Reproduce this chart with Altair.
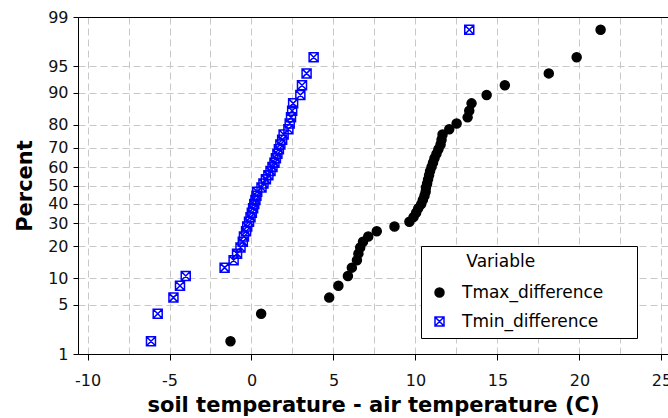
import altair as alt
import pandas as pd
from statistics import NormalDist

# Soil minus air temperature differences (C), one list per variable
tmax_difference = [
    -1.28, 0.59, 4.74, 5.30, 5.88, 6.12, 6.43, 6.52, 6.63, 6.80,
    7.12, 7.64, 8.72, 9.63, 9.88, 10.04, 10.17, 10.35, 10.45, 10.55,
    10.62, 10.64, 10.71, 10.77, 10.83, 10.89, 10.98, 11.07, 11.16, 11.28,
    11.40, 11.53, 11.59, 11.65, 12.06, 12.51, 13.18, 13.28, 13.42, 14.34,
    15.45, 18.13, 19.83, 21.29,
]
tmin_difference = [
    -6.13, -5.72, -4.76, -4.36, -4.01, -1.64, -1.09, -0.88, -0.67, -0.53,
    -0.46, -0.33, -0.26, -0.15, -0.06, 0.02, 0.10, 0.17, 0.24, 0.30,
    0.35, 0.61, 0.73, 0.88, 1.03, 1.16, 1.28, 1.40, 1.49, 1.58,
    1.67, 1.76, 1.87, 1.96, 2.25, 2.33, 2.41, 2.48, 2.54, 2.98,
    3.08, 3.36, 3.79, 13.28,
]
variables = ["Tmax_difference", "Tmin_difference"]

percent_ticks = [1, 5, 10, 20, 30, 40, 50, 60, 70, 80, 90, 95, 99]
x_grid = [-10, -7.5, -5, -2.5, 0, 2.5, 5, 7.5, 10, 12.5, 15, 17.5, 20, 22.5, 25]

FONT = "DejaVu Sans"
BLANK = "\u2800"  # blank glyph used as fixed-width indent inside the legend

df = pd.DataFrame({
    "Variable": [variables[0]] * len(tmax_difference) + [variables[1]] * len(tmin_difference),
    "value": tmax_difference + tmin_difference,
})

# Normal probability scale: percent -> standard normal quantile
nd = NormalDist()
z_ticks = [nd.inv_cdf(p / 100) for p in percent_ticks]
z_lo, z_hi = z_ticks[0], z_ticks[-1]

# Square with a diagonal cross inside
XBOX = "M-1,-1L1,-1L1,1L-1,1Z M-1,-1L1,1 M-1,1L1,-1"

x_scale = alt.Scale(domain=[-10.58, 25.4], nice=False, zero=False)
y_scale = alt.Scale(domain=[z_lo, z_hi], nice=False, zero=False)

base = (
    alt.Chart(df)
    .transform_window(rank="row_number()", sort=[alt.SortField("value", order="ascending")],
                      groupby=["Variable"])
    .transform_joinaggregate(n="count()", groupby=["Variable"])
    .transform_calculate(z="quantileNormal((datum.rank - 0.3) / (datum.n + 0.4))")
)

legend = alt.Legend(
    orient="none", legendX=343, legendY=229,
    title=BLANK * 3 + "Variable",
    titleFont=FONT, titleFontSize=17, titleFontWeight="normal", titleColor="black",
    titlePadding=13,
    labelFont=FONT, labelFontSize=17, labelColor="black", labelLimit=400,
    labelExpr="datum.label + '" + BLANK * 2 + "'",
    labelOffset=14, symbolOffset=2,
    symbolSize=81, symbolStrokeWidth=1.5,
    rowPadding=11, padding=8,
    strokeColor="black", fillColor="white",
)

x_axis = alt.Axis(
    values=x_grid,
    labelExpr="datum.value % 5 == 0 ? replace(datum.label, '\u2212', '-') : ''",
    tickOpacity={"condition": {"test": "datum.value % 5 != 0", "value": 0}, "value": 1},
    title="soil temperature - air temperature (C)",
    titleFont=FONT, titleFontSize=21, titleFontWeight="bold", titleColor="black",
    titleBaseline="alphabetic", titleY=57.5,
    labelFont=FONT, labelFontSize=16, labelColor="#111111", labelPadding=12,
    tickSize=6, tickColor="black", domainColor="black", domainWidth=1,
    grid=True, gridColor="#c8c8c8", gridDash=[7, 4], gridWidth=1,
)

y_axis = alt.Axis(
    values=z_ticks,
    labelExpr="format(cumulativeNormal(datum.value) * 100, '.0f')",
    title="Percent",
    titleFont=FONT, titleFontSize=21, titleFontWeight="bold", titleColor="black",
    titleBaseline="alphabetic", titleX=-46.5, titleAngle=270,
    labelFont=FONT, labelFontSize=16, labelColor="#111111", labelPadding=5,
    tickSize=5, tickColor="black", domainColor="black", domainWidth=1,
    grid=True, gridColor="#c8c8c8", gridDash=[7, 4], gridWidth=1,
)

points = base.mark_point(size=81, strokeWidth=1.5, opacity=1).encode(
    x=alt.X("value:Q", scale=x_scale, axis=x_axis),
    y=alt.Y("z:Q", scale=y_scale, axis=y_axis),
    shape=alt.Shape("Variable:N", scale=alt.Scale(domain=variables, range=["circle", XBOX]),
                    legend=legend),
    fill=alt.Fill("Variable:N", scale=alt.Scale(domain=variables, range=["black", "transparent"]),
                  legend=legend),
    stroke=alt.Stroke("Variable:N", scale=alt.Scale(domain=variables, range=["black", "#0000ff"]),
                      legend=legend),
)

# Invisible layer carrying the top frame line
top_frame = base.mark_point(opacity=0).encode(
    x=alt.X("value:Q", scale=x_scale,
            axis=alt.Axis(orient="top", labels=False, ticks=False, grid=False, title=None,
                          domainColor="black", domainWidth=1)),
    y=alt.Y("z:Q", scale=y_scale, axis=y_axis),
)

chart = (
    alt.layer(points, top_frame)
    .resolve_axis(x="independent")
    .properties(
        width=590, height=337,
        autosize=alt.AutoSizeParams(type="none"),
        padding={"left": 78, "top": 17, "right": 0, "bottom": 64},
        background="white",
    )
    .configure_view(stroke="transparent")
)

chart.save("out.html", embed_options={"renderer": "svg", "actions": False})
